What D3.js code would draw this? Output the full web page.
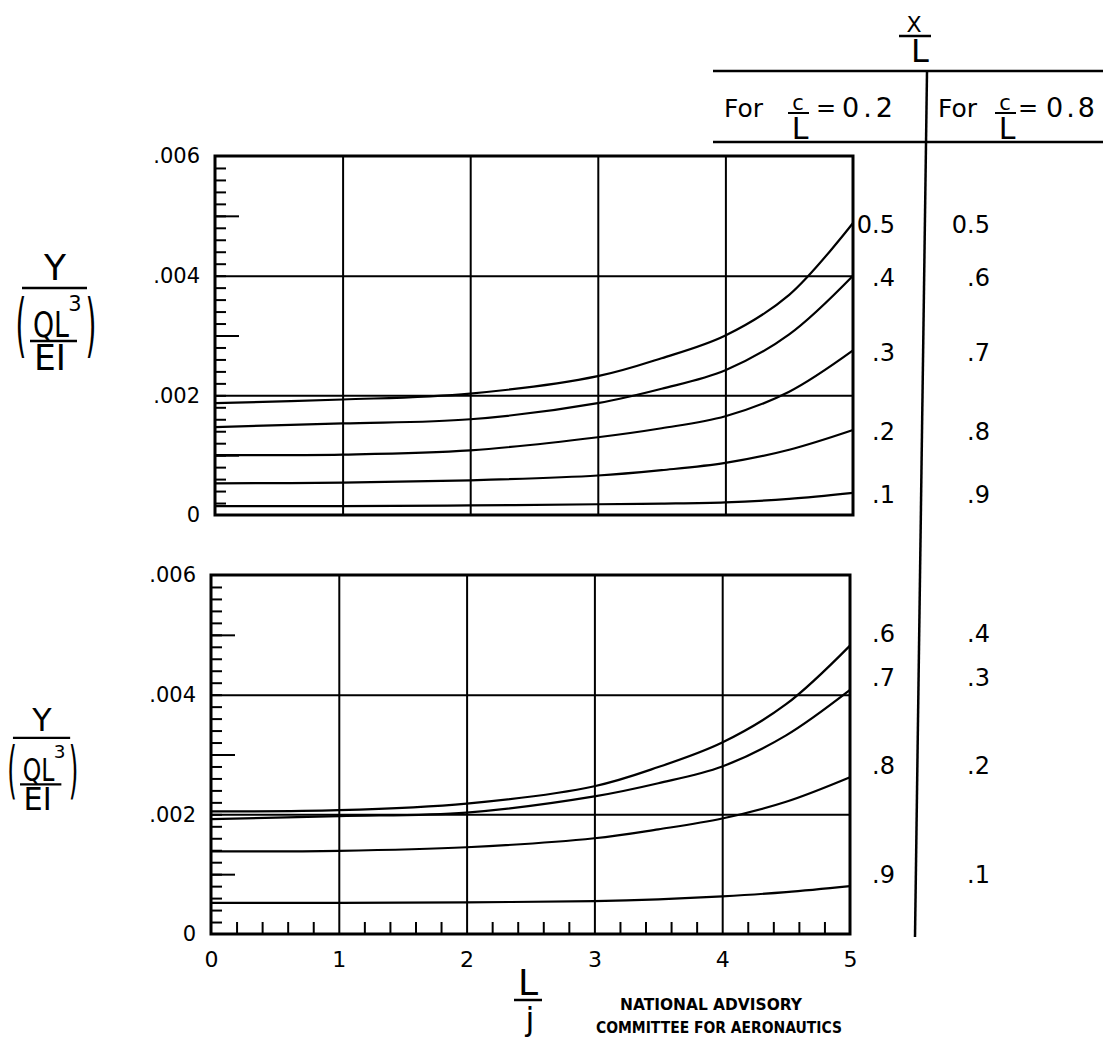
<!DOCTYPE html>
<html>
  <head>
    <meta charset="UTF-8">
    <script src="https://d3js.org/d3.v7.min.js"></script>
    <style>
      body { margin: 0; background: #fff; }
      text { font-family: "DejaVu Sans", sans-serif; fill: #000; }
      .grid line { stroke: #000; stroke-width: 2; }
      .grid .domain { stroke: none; }
      .ticks line { stroke: #000; stroke-width: 2; }
      .ticks .domain { stroke: none; }
      .labels .domain, .labels line { stroke: none; }
    </style>
  </head>
  <body>
    <svg id="svg" width="1103" height="1039"></svg>
    <script>

// ---- data ----
const xVals = [0, 1, 2, 3, 3.5, 4, 4.5, 5];

// upper plot, curve labels for c/L = 0.2 and c/L = 0.8
const topLabelsA = ["0.5", ".4", ".3", ".2", ".1"];
const topLabelsB = ["0.5", ".6", ".7", ".8", ".9"];
const top05 = [0.00187, 0.00193, 0.00203, 0.00232, 0.00262, 0.00300, 0.00368, 0.00488];
const top04 = [0.00147, 0.00153, 0.00160, 0.00187, 0.00211, 0.00242, 0.00302, 0.00400];
const top03 = [0.00100, 0.00101, 0.00108, 0.00130, 0.00145, 0.00165, 0.00206, 0.00275];
const top02 = [0.00053, 0.00054, 0.00058, 0.00066, 0.00075, 0.00087, 0.00109, 0.00142];
const top01 = [0.00015, 0.00015, 0.00016, 0.00018, 0.00019, 0.00021, 0.00027, 0.00037];

// lower plot
const botLabelsA = [".6", ".7", ".8", ".9"];
const botLabelsB = [".4", ".3", ".2", ".1"];
const bot06 = [0.00205, 0.00207, 0.00218, 0.00247, 0.00279, 0.00320, 0.00384, 0.00482];
const bot07 = [0.00192, 0.00197, 0.00203, 0.00230, 0.00252, 0.00280, 0.00332, 0.00408];
const bot08 = [0.00138, 0.00139, 0.00145, 0.00160, 0.00175, 0.00193, 0.00221, 0.00262];
const bot09 = [0.00052, 0.00052, 0.00053, 0.00055, 0.00058, 0.00063, 0.00070, 0.00080];

const yTickVals = [0, 0.002, 0.004, 0.006];
const xTickVals = [0, 1, 2, 3, 4, 5];

const svg = d3.select("svg#svg");
svg.append("rect").attr("width", 1103).attr("height", 1039).attr("fill", "#fff");

const panels = [
  { top: 156, bottom: 515, left: 215, right: 853, series: [top05, top04, top03, top02, top01],
    labA: topLabelsA, labB: topLabelsB, shift: 2, xAxis: false },
  { top: 575, bottom: 934, left: 211, right: 850, series: [bot06, bot07, bot08, bot09],
    labA: botLabelsA, labB: botLabelsB, shift: -12, xAxis: true }
];

const fmtY = d => d === 0 ? "0" : d3.format(".3f")(d).replace(/^0/, "");

panels.forEach(p => {
  const x = d3.scaleLinear().domain([0, 5]).range([p.left, p.right]);
  const y = d3.scaleLinear().domain([0, 0.006]).range([p.bottom, p.top]);
  const w = p.right - p.left, h = p.bottom - p.top;

  // gridlines
  svg.append("g").attr("class", "grid")
    .attr("transform", "translate(" + p.left + ",0)")
    .call(d3.axisLeft(y).tickValues([0.002, 0.004]).tickSize(-w).tickFormat(""));
  svg.append("g").attr("class", "grid")
    .attr("transform", "translate(0," + p.bottom + ")")
    .call(d3.axisBottom(x).tickValues([1, 2, 3, 4]).tickSize(-h).tickFormat(""));

  // minor ticks on the left edge, pointing in
  svg.append("g").attr("class", "ticks")
    .attr("transform", "translate(" + p.left + ",0)")
    .call(d3.axisRight(y).tickValues(d3.range(1, 30).map(i => i * 0.0002)).tickSize(11).tickFormat(""));
  svg.append("g").attr("class", "ticks")
    .attr("transform", "translate(" + p.left + ",0)")
    .call(d3.axisRight(y).tickValues([0.001, 0.003, 0.005]).tickSize(24).tickFormat(""));

  // y labels
  svg.append("g").attr("class", "labels")
    .attr("transform", "translate(" + (p.left - 12) + ",0)")
    .call(d3.axisLeft(y).tickValues(yTickVals).tickSize(0).tickFormat(fmtY))
    .selectAll("text").attr("font-family", "DejaVu Sans").attr("font-size", 21);

  // frame
  svg.append("rect")
    .attr("x", p.left).attr("y", p.top).attr("width", w).attr("height", h)
    .attr("fill", "none").attr("stroke", "#000").attr("stroke-width", 3);

  // curves
  const line = d3.line().x((d, i) => x(xVals[i])).y(d => y(d)).curve(d3.curveCatmullRom.alpha(0.5));
  p.series.forEach((s, k) => {
    svg.append("path").datum(s)
      .attr("d", line)
      .attr("fill", "none").attr("stroke", "#000").attr("stroke-width", 2.2);
    const ly = y(s[s.length - 1]) + p.shift;
    svg.append("text").attr("x", 895).attr("y", ly).attr("dy", "0.35em")
      .attr("text-anchor", "end").attr("font-size", 24).text(p.labA[k]);
    svg.append("text").attr("x", 990).attr("y", ly).attr("dy", "0.35em")
      .attr("text-anchor", "end").attr("font-size", 24).text(p.labB[k]);
  });

  if (p.xAxis) {
    svg.append("g").attr("class", "ticks")
      .attr("transform", "translate(0," + p.bottom + ")")
      .call(d3.axisTop(x).tickValues(d3.range(0, 25).map(i => i * 0.2).filter(v => Math.abs(v - Math.round(v)) > 1e-6)).tickSize(12).tickFormat(""));
    svg.append("g").attr("class", "labels")
      .attr("transform", "translate(0," + (p.bottom + 14) + ")")
      .call(d3.axisBottom(x).tickValues(xTickVals).tickSize(0).tickFormat(d3.format("d")))
      .selectAll("text").attr("font-family", "DejaVu Sans").attr("font-size", 22);
  }
});

// ---- Y / (QL^3 / EI) labels ----
function paren(g, cx, ch) {
  g.append("text").attr("x", 0).attr("y", 0).attr("font-size", 28)
    .attr("text-anchor", "middle")
    .attr("transform", "translate(" + cx + ",96) scale(1,2.5)")
    .text(ch);
}
function yLabel(cx, top, s) {
  const g = svg.append("g").attr("transform", "translate(" + cx + "," + top + ") scale(" + s + ")");
  g.append("text").attr("x", 0).attr("y", 27).attr("text-anchor", "middle").attr("font-size", 36).text("Y");
  g.append("line").attr("x1", -33).attr("x2", 32).attr("y1", 35).attr("y2", 35).attr("stroke", "#000").attr("stroke-width", 2.5);
  paren(g, -34, "(");
  paren(g, 36, ")");
  g.append("text").attr("x", -4).attr("y", 84).attr("text-anchor", "middle").attr("font-size", 36)
    .attr("textLength", 36).attr("lengthAdjust", "spacingAndGlyphs").text("QL");
  g.append("text").attr("x", 20).attr("y", 58).attr("text-anchor", "middle").attr("font-size", 21).text("3");
  g.append("line").attr("x1", -25).attr("x2", 22).attr("y1", 88).attr("y2", 88).attr("stroke", "#000").attr("stroke-width", 2.5);
  g.append("text").attr("x", -5).attr("y", 117).attr("text-anchor", "middle").attr("font-size", 36)
    .attr("textLength", 32).attr("lengthAdjust", "spacingAndGlyphs").text("EI");
}
yLabel(55, 253, 1);
yLabel(42, 707, 0.88);

// ---- header table ----
function hline(x1, x2, y1, y2, sw) {
  svg.append("line").attr("x1", x1).attr("x2", x2).attr("y1", y1).attr("y2", y2)
    .attr("stroke", "#000").attr("stroke-width", sw);
}
hline(713, 1103, 71, 71, 2.5);
hline(713, 1103, 142, 142, 2.5);
hline(927, 915, 72, 937, 2.5);

// X / L
svg.append("text").attr("x", 914).attr("y", 32).attr("text-anchor", "middle").attr("font-size", 22).text("X");
hline(899, 931, 36, 36, 2.5);
svg.append("text").attr("x", 920).attr("y", 62).attr("text-anchor", "middle").attr("font-size", 32).text("L");

function forLabel(x0, fx, eqX, valX, val, ls) {
  svg.append("text").attr("x", x0).attr("y", 117).attr("font-size", 25)
    .attr("textLength", 39).attr("lengthAdjust", "spacingAndGlyphs").text("For");
  svg.append("text").attr("x", fx).attr("y", 110).attr("text-anchor", "middle").attr("font-size", 21).text("c");
  hline(fx - 10, fx + 11, 113, 113, 2);
  svg.append("text").attr("x", fx + 2).attr("y", 139).attr("text-anchor", "middle").attr("font-size", 30).text("L");
  svg.append("text").attr("x", eqX).attr("y", 116).attr("font-size", 24).text("=");
  svg.append("text").attr("x", valX).attr("y", 117).attr("font-size", 27)
    .attr("letter-spacing", ls).text(val);
}
forLabel(724, 798, 816, 842, "0.2", 4);
forLabel(938, 1005, 1018, 1046, "0.8", 3);

// ---- x axis title and credit ----
svg.append("text").attr("x", 528).attr("y", 995).attr("text-anchor", "middle").attr("font-size", 36).text("L");
hline(514, 542, 1000, 1000, 2.5);
svg.append("text").attr("x", 530).attr("y", 1030).attr("text-anchor", "middle").attr("font-size", 32).text("j");

svg.append("text").attr("x", 711).attr("y", 1010).attr("text-anchor", "middle")
  .attr("font-size", 16).attr("font-weight", "bold")
  .attr("textLength", 182).attr("lengthAdjust", "spacingAndGlyphs").text("NATIONAL ADVISORY");
svg.append("text").attr("x", 719).attr("y", 1033).attr("text-anchor", "middle")
  .attr("font-size", 16).attr("font-weight", "bold")
  .attr("textLength", 246).attr("lengthAdjust", "spacingAndGlyphs").text("COMMITTEE FOR AERONAUTICS");

    </script>
  </body>
</html>
